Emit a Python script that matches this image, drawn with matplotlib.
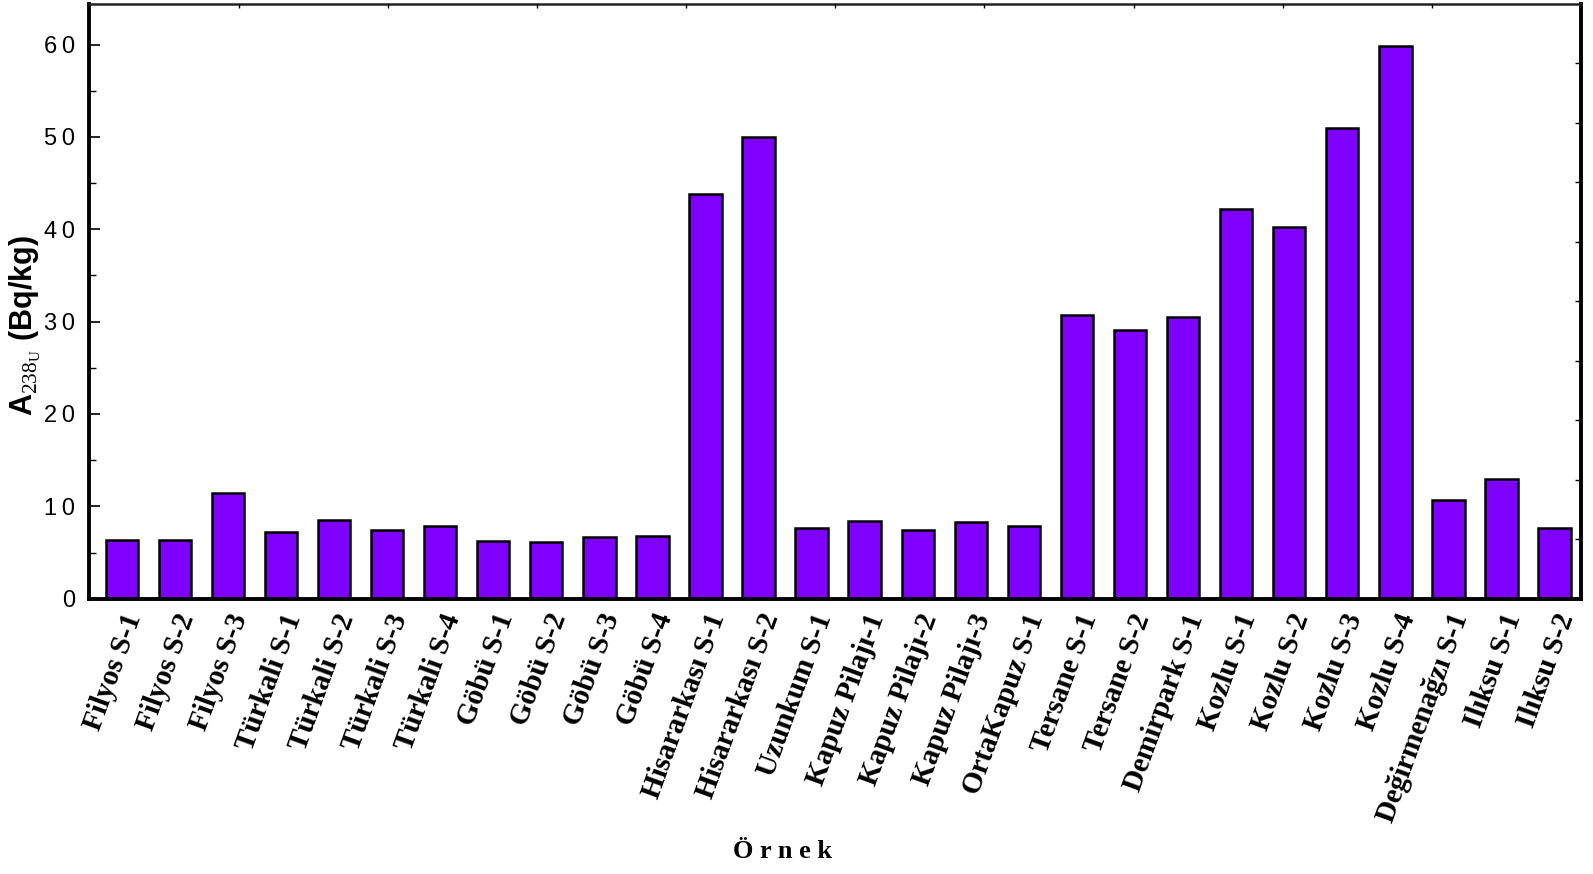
import matplotlib
matplotlib.use('Agg')
import matplotlib.pyplot as plt
from matplotlib.ticker import MultipleLocator
import numpy as np

# Sample names and measured 238U activity (Bq/kg)
samples = ['Filyos S-1', 'Filyos S-2', 'Filyos S-3',
           'Türkali S-1', 'Türkali S-2', 'Türkali S-3', 'Türkali S-4',
           'Göbü S-1', 'Göbü S-2', 'Göbü S-3', 'Göbü S-4',
           'Hisararkası S-1', 'Hisararkası S-2', 'Uzunkum S-1',
           'Kapuz Pilajı-1', 'Kapuz Pilajı-2', 'Kapuz Pilajı-3',
           'OrtaKapuz S-1', 'Tersane S-1', 'Tersane S-2', 'Demirpark S-1',
           'Kozlu S-1', 'Kozlu S-2', 'Kozlu S-3', 'Kozlu S-4',
           'Değirmenağzı S-1', 'Ilıksu S-1', 'Ilıksu S-2']
a_u238 = [6.4, 6.4, 11.4, 7.2, 8.5, 7.4, 7.9, 6.2, 6.1, 6.7, 6.8,
          43.8, 50.0, 7.7, 8.4, 7.4, 8.3, 7.9, 30.7, 29.1, 30.5,
          42.2, 40.3, 51.0, 59.8, 10.7, 13.0, 7.7]
y_ticks = [0, 10, 20, 30, 40, 50, 60]

plt.rcParams['mathtext.fontset'] = 'custom'
plt.rcParams['mathtext.rm'] = 'Liberation Serif'

fig = plt.figure(figsize=(15.93, 8.74), dpi=100)
ax = fig.add_axes([0.0561, 0.315, 0.9364, 0.6805])

x = np.arange(len(samples))
ax.bar(x, a_u238, width=0.61, color='#7F00FF', edgecolor='black', linewidth=1.8)

ax.set_xlim(-0.61, len(samples) - 0.5)
ax.set_ylim(0, 64.4)

# y axis: major every 10, minor every 5, ticks inside
ax.set_yticks(y_ticks)
ax.set_yticklabels(['\u2009'.join(str(t)) for t in y_ticks],
                   family=['Liberation Sans', 'DejaVu Sans'], fontsize=17)
ax.yaxis.set_minor_locator(MultipleLocator(5))
ax.tick_params(axis='y', which='major', direction='in', length=8, width=1.2, pad=10)
ax.tick_params(axis='y', which='minor', direction='in', length=5, width=1.0)

ax.set_xticks(x)
ax.set_xticklabels(samples, rotation=70, ha='right', va='top',
                   rotation_mode='anchor', family='Liberation Serif',
                   fontweight='bold', fontsize=21)
ax.tick_params(axis='x', length=0, pad=8)

# frame: heavy left/right/bottom, lighter top
for side in ['left', 'right', 'bottom']:
    ax.spines[side].set_linewidth(2.8)
ax.spines['top'].set_linewidth(1.8)
ax.spines['top'].set_color('#222222')

# unlabeled ticks on the top and right frame edges
frame = ax.twinx()
frame.set_ylim(0, 1)
frame.set_yticks(np.arange(1, 10) / 10)
frame.set_yticklabels([])
frame.tick_params(axis='y', direction='in', length=4, width=1.0)
top = ax.twiny()
top.set_xlim(0, 1)
top.set_xticks(np.arange(1, 10) / 10)
top.set_xticklabels([])
top.tick_params(axis='x', direction='in', length=3, width=1.0)
for a in (frame, top):
    for s in a.spines.values():
        s.set_visible(False)

fig.text(0.016, 0.628, r'A$_{\mathrm{238}_{\mathrm{U}}}$ (Bq/kg)',
         rotation=90, ha='center', va='center', family='Liberation Sans',
         fontweight='bold', fontsize=22)
fig.text(0.491, 0.026, 'Ö r n e k', ha='center', va='center',
         family='Liberation Serif', fontweight='bold', fontsize=19)

fig.savefig('out.png', dpi=100)
